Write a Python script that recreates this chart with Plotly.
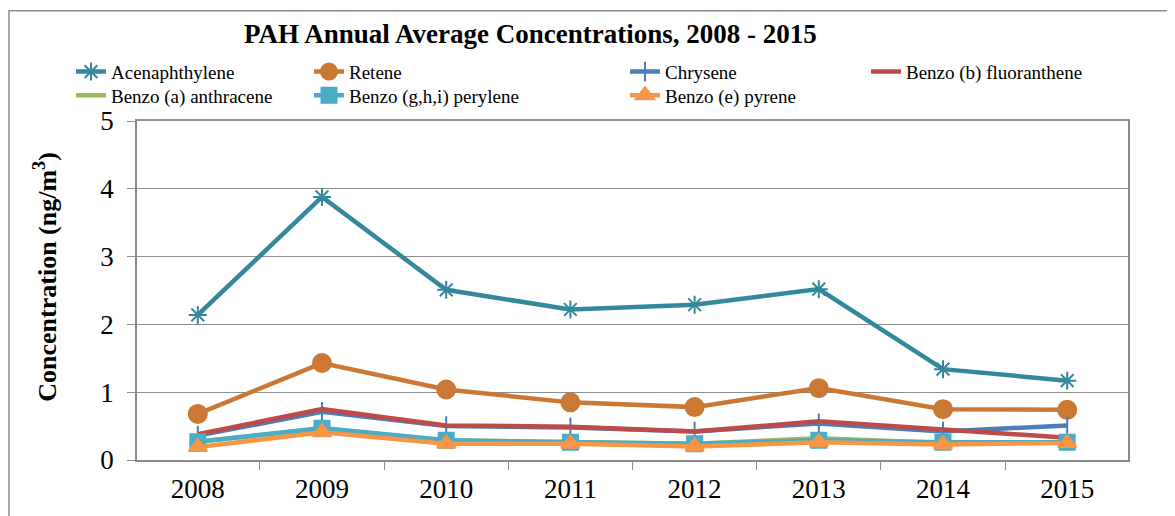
import plotly.graph_objects as go

# --- data ---
years = ["2008", "2009", "2010", "2011", "2012", "2013", "2014", "2015"]

acenaphthylene = [2.14, 3.88, 2.51, 2.22, 2.29, 2.52, 1.34, 1.17]
retene = [0.68, 1.43, 1.04, 0.85, 0.78, 1.06, 0.75, 0.74]
chrysene = [0.36, 0.71, 0.50, 0.48, 0.42, 0.54, 0.42, 0.51]
benzo_b_fluoranthene = [0.38, 0.75, 0.51, 0.49, 0.42, 0.57, 0.45, 0.33]
benzo_a_anthracene = [0.27, 0.46, 0.29, 0.27, 0.24, 0.32, 0.25, 0.26]
benzo_ghi_perylene = [0.27, 0.47, 0.29, 0.26, 0.24, 0.29, 0.26, 0.26]
benzo_e_pyrene = [0.19, 0.41, 0.24, 0.24, 0.20, 0.26, 0.23, 0.25]

# --- layout geometry (page pixels of the reference) ---
OFF = 8  # default body margin of the html page
W, H = 1175 - OFF, 516 - OFF
L, R, T, B = 137, 1128, 121, 465
PW, PH = R - L, B - T


def px(x):
    return (x - L) / PW


def py(y):
    return (B - y) / PH


FONT = "Liberation Serif"
GRID = "#8c8c8c"

# legend text start (x) and row centre (y) of every entry, page pixels
COL_X = [112, 350, 666, 907]
ROW_Y = [71, 95]

series = [
    # name, values, color, marker symbol, marker size, legend column, row
    ("Acenaphthylene", acenaphthylene, "#34889E", "asterisk-open", 15, 0, 0),
    ("Retene", retene, "#CB7834", "circle", 18, 1, 0),
    ("Chrysene", chrysene, "#4A7EBB", "line-ns-open", 14, 2, 0),
    ("Benzo (b) fluoranthene", benzo_b_fluoranthene, "#BE4B48", None, 0, 3, 0),
    ("Benzo (a) anthracene", benzo_a_anthracene, "#9BBB59", None, 0, 0, 1),
    ("Benzo (g,h,i) perylene", benzo_ghi_perylene, "#4BACC6", "square", 15, 1, 1),
    ("Benzo (e) pyrene", benzo_e_pyrene, "#F79646", "triangle-up", 16, 2, 1),
]

fig = go.Figure()
legends = {}
for i, (name, vals, color, sym, size, col, row) in enumerate(series):
    leg = "legend" if i == 0 else f"legend{i + 1}"
    if sym:
        marker = dict(symbol=sym, size=size, color=color,
                      line=dict(color=color, width=2))
        mode = "lines+markers"
    else:
        marker = None
        mode = "lines"
    fig.add_trace(go.Scatter(
        x=years, y=vals, name=name, mode=mode,
        line=dict(color=color, width=4.5),
        marker=marker, legend=leg, showlegend=True,
    ))
    legends[leg] = dict(
        x=px(COL_X[col] - 41), y=py(ROW_Y[row]),
        xanchor="left", yanchor="middle", orientation="v",
        font=dict(family=FONT, size=19, color="black"),
        bgcolor="rgba(0,0,0,0)",
    )

fig.update_layout(
    width=W, height=H, showlegend=True,
    margin=dict(l=L - OFF, r=W - (R - OFF), t=T - OFF, b=H - (B - OFF)),
    paper_bgcolor="white", plot_bgcolor="white",
    font=dict(family=FONT, color="black"),
    annotations=[
        dict(text="<b>PAH Annual Average Concentrations, 2008 - 2015</b>",
             x=px(530), y=py(33), xref="paper", yref="paper",
             xanchor="center", yanchor="middle", showarrow=False,
             font=dict(family=FONT, size=27, color="black")),
        dict(text="<b>Concentration (ng/m<sup>3</sup>)</b>",
             x=px(46), y=py(279), xref="paper", yref="paper",
             xanchor="center", yanchor="middle", textangle=-90,
             showarrow=False,
             font=dict(family=FONT, size=26, color="black")),
    ],
    shapes=[dict(
        type="rect", xref="paper", yref="paper",
        x0=px(9), x1=px(1171), y0=py(530), y1=py(9),
        line=dict(color="#8c8c8c", width=1.5), layer="below",
    )],
    **legends,
)

fig.update_xaxes(
    type="category", showgrid=False,
    showline=True, linecolor=GRID, linewidth=1.5, mirror=True,
    ticks="outside", tickson="boundaries", ticklen=8, tickcolor=GRID,
    tickfont=dict(family=FONT, size=27, color="black"),
    ticklabelstandoff=4,
)
fig.update_yaxes(
    range=[0, 5], dtick=1, showgrid=True, gridcolor=GRID, gridwidth=1,
    showline=True, linecolor=GRID, linewidth=1.5, mirror=True,
    ticks="outside", ticklen=8, tickcolor=GRID,
    tickfont=dict(family=FONT, size=27, color="black"),
    ticklabelstandoff=8, zeroline=False,
)

fig.write_html("out.html")
